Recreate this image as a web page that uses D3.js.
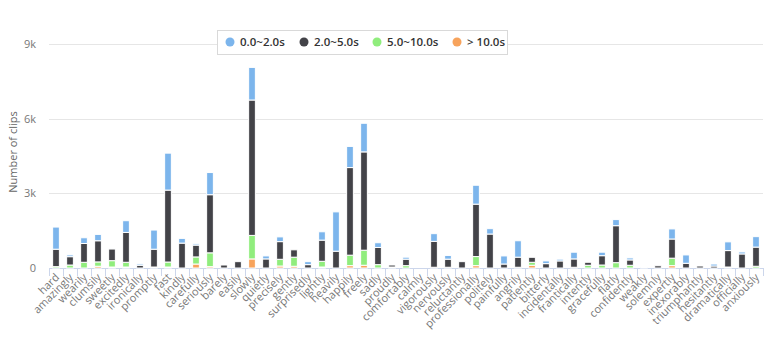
<!DOCTYPE html>
<html>
<head>
<meta charset="utf-8">
<script src="https://cdn.jsdelivr.net/npm/d3@7"></script>
<style>
    body { margin: 0; background: #fff; }
    svg { font-family: 'Open Sans', 'DejaVu Sans', sans-serif; }
</style>
</head>
<body>
<svg id="chart" width="771" height="339"></svg>
<script>
var categories = [ 'hard', 'amazingly', 'wearily', 'clumsily', 'sweetly', 'excitedly', 'ironically',
    'promptly', 'fast', 'kindly', 'carefully', 'seriously', 'barely', 'easily', 'slowly', 'quietly',
    'precisely', 'gently', 'surprisedly', 'lightly', 'heavily', 'happily', 'freely', 'sadly', 'proudly',
    'comfortably', 'calmly', 'vigorously', 'nervously', 'reluctantly', 'professionally', 'politely',
    'painfully', 'angrily', 'patiently', 'bitterly', 'incidentally', 'frantically', 'intently',
    'gracefully', 'flatly', 'confidently', 'weakly', 'solemnly', 'expertly', 'inexorably',
    'triumphantly', 'hesitantly', 'dramatically', 'officially', 'anxiously' ];

// clip counts per duration bucket, same order as categories
var short02 = [ 890, 70, 230, 255, 10, 470, 55, 770, 1485, 190, 55, 890, 0, 0, 1310, 120,
    190, 0, 120, 335, 1580, 850, 1150, 190, 0, 80, 0, 310, 150, 0, 760, 215,
    325, 660, 0, 110, 70, 270, 0, 140, 245, 80, 40, 0, 405, 335, 0, 80, 350, 80, 420 ];
var mid25 = [ 700, 335, 755, 850, 475, 1200, 110, 715, 2890, 1000, 475, 2335, 120, 255, 5440, 365,
    710, 295, 135, 850, 675, 3520, 3950, 690, 80, 260, 0, 1040, 325, 255, 2105, 1365,
    160, 405, 200, 175, 285, 335, 120, 375, 1485, 215, 0, 90, 770, 190, 80, 80, 660, 565, 770 ];
var mid510 = [ 55, 120, 230, 175, 255, 190, 0, 40, 200, 0, 285, 555, 0, 0, 945, 0,
    270, 365, 0, 230, 0, 420, 605, 135, 40, 95, 0, 30, 30, 0, 365, 0,
    0, 30, 120, 0, 0, 30, 110, 120, 215, 110, 0, 0, 300, 0, 0, 0, 40, 0, 70 ];
var long10 = [ 0, 0, 0, 70, 40, 40, 0, 0, 40, 0, 160, 55, 0, 0, 365, 0,
    80, 70, 0, 40, 0, 95, 110, 0, 0, 0, 0, 0, 0, 0, 95, 0,
    0, 0, 110, 0, 0, 0, 0, 0, 0, 0, 0, 0, 95, 0, 0, 0, 0, 0, 0 ];

var seriesNames = [ '0.0~2.0s', '2.0~5.0s', '5.0~10.0s', '> 10.0s' ];
var seriesColors = [ '#7cb5ec', '#434348', '#90ed7d', '#f7a35c' ];
var yTicks = [ 0, 3000, 6000, 9000 ];

(function(){
    var svg = d3.select( '#chart' ),
        plotLeft = 49, plotRight = 763, plotTop = 44, plotBottom = 268,
        rows = categories.map( function( c, i ){
            return { cat: c, s3: long10[i], s2: mid510[i], s1: mid25[i], s0: short02[i] };
        }),
        // bottom of the stack is the longest bucket
        stack = d3.stack().keys( [ 's3', 's2', 's1', 's0' ] )( rows ),
        x = d3.scaleBand().domain( categories ).range( [ plotLeft, plotRight ] ),
        y = d3.scaleLinear().domain( [ 0, 9000 ] ).range( [ plotBottom, plotTop ] ),
        colorOf = { s0: seriesColors[0], s1: seriesColors[1], s2: seriesColors[2], s3: seriesColors[3] },
        barW = x.bandwidth() * 0.6 * 0.8,
        legendX = [ 230, 304, 377, 457 ],
        legend;

    // grid
    svg.append( 'g' )
        .selectAll( 'line' )
        .data( yTicks )
        .enter().append( 'line' )
        .attr( 'x1', plotLeft ).attr( 'x2', plotRight )
        .attr( 'y1', function( d ){ return Math.round( y( d ) ) + 0.5; } )
        .attr( 'y2', function( d ){ return Math.round( y( d ) ) + 0.5; } )
        .attr( 'stroke', '#e6e6e6' );

    // y labels
    svg.append( 'g' )
        .selectAll( 'text' )
        .data( yTicks )
        .enter().append( 'text' )
        .attr( 'x', 36 )
        .attr( 'y', function( d ){ return y( d ) + 4; } )
        .attr( 'text-anchor', 'end' )
        .attr( 'font-size', 11 )
        .attr( 'fill', '#777' )
        .text( function( d ){ return d === 0 ? '0' : ( d / 1000 ) + 'k'; } );

    svg.append( 'text' )
        .attr( 'transform', 'translate(17,152) rotate(-90)' )
        .attr( 'text-anchor', 'middle' )
        .attr( 'font-size', 11 )
        .attr( 'fill', '#666' )
        .text( 'Number of clips' );

    // x axis line + ticks
    svg.append( 'line' )
        .attr( 'x1', plotLeft ).attr( 'x2', plotRight )
        .attr( 'y1', plotBottom + 0.5 ).attr( 'y2', plotBottom + 0.5 )
        .attr( 'stroke', '#ccd6eb' );

    svg.append( 'g' )
        .selectAll( 'line' )
        .data( d3.range( categories.length + 1 ) )
        .enter().append( 'line' )
        .attr( 'x1', function( i ){ return Math.round( plotLeft + i * x.step() ) + 0.5; } )
        .attr( 'x2', function( i ){ return Math.round( plotLeft + i * x.step() ) + 0.5; } )
        .attr( 'y1', plotBottom ).attr( 'y2', plotBottom + 8 )
        .attr( 'stroke', '#ccd6eb' );

    svg.append( 'g' )
        .selectAll( 'text' )
        .data( categories )
        .enter().append( 'text' )
        .attr( 'transform', function( d ){
            return 'translate(' + ( x( d ) + x.bandwidth() / 2 + 4 ) + ',' + ( plotBottom + 10 ) + ') rotate(-45)';
        })
        .attr( 'text-anchor', 'end' )
        .attr( 'font-size', 11 )
        .attr( 'fill', '#777' )
        .text( function( d ){ return d; } );

    // bars
    svg.append( 'g' )
        .selectAll( 'g' )
        .data( stack )
        .enter().append( 'g' )
        .attr( 'fill', function( s ){ return colorOf[ s.key ]; } )
        .selectAll( 'rect' )
        .data( function( s ){ return s.filter( function( p ){ return p[1] > p[0]; } ); } )
        .enter().append( 'rect' )
        .attr( 'x', function( p ){ return x( p.data.cat ) + ( x.bandwidth() - barW ) / 2; } )
        .attr( 'width', barW )
        .attr( 'y', function( p ){ return y( p[1] ); } )
        .attr( 'height', function( p ){ return y( p[0] ) - y( p[1] ); } )
        .attr( 'stroke', '#fff' )
        .attr( 'stroke-width', 1 );

    // legend
    legend = svg.append( 'g' );
    legend.append( 'rect' )
        .attr( 'x', 217.5 ).attr( 'y', 30.5 )
        .attr( 'width', 290 ).attr( 'height', 24 )
        .attr( 'fill', '#fff' )
        .attr( 'stroke', '#d9d9d9' );

    seriesNames.forEach( function( name, i ){
        legend.append( 'circle' )
            .attr( 'cx', legendX[i] ).attr( 'cy', 42 ).attr( 'r', 4.5 )
            .attr( 'fill', seriesColors[i] );
        legend.append( 'text' )
            .attr( 'x', legendX[i] + 10 ).attr( 'y', 46 )
            .attr( 'font-size', 11.5 )
            .attr( 'font-weight', 600 )
            .attr( 'fill', '#333' )
            .text( name );
    });
})();
</script>
</body>
</html>
